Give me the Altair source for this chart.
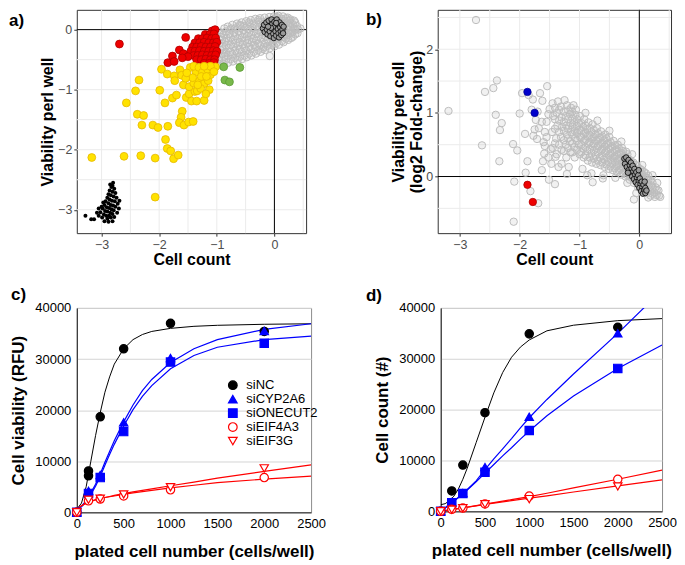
import altair as alt
import pandas as pd

FONT = "Liberation Sans"

# ================= panel a data =================
a_gray = [
    (-0.95, -0.58), (-0.96, -0.46), (-0.94, -0.34), (-0.95, -0.22), (-0.93, -0.12), (-0.95, -0.04),
    (-0.88, -0.57), (-0.87, -0.45), (-0.89, -0.33), (-0.86, -0.20), (-0.88, -0.08), (-0.87, 0.02),
    (-0.80, -0.55), (-0.81, -0.43), (-0.79, -0.31), (-0.80, -0.19), (-0.78, -0.07), (-0.81, 0.05),
    (-0.72, -0.53), (-0.73, -0.41), (-0.71, -0.29), (-0.72, -0.17), (-0.70, -0.05), (-0.73, 0.08),
    (-0.64, -0.51), (-0.65, -0.39), (-0.63, -0.27), (-0.64, -0.15), (-0.62, -0.03), (-0.65, 0.10),
    (-0.56, -0.49), (-0.57, -0.37), (-0.55, -0.25), (-0.56, -0.13), (-0.54, -0.01), (-0.57, 0.12),
    (-0.48, -0.46), (-0.49, -0.35), (-0.47, -0.23), (-0.48, -0.11), (-0.46, 0.01), (-0.49, 0.14),
    (-0.40, -0.43), (-0.41, -0.32), (-0.39, -0.21), (-0.40, -0.09), (-0.38, 0.03), (-0.41, 0.16),
    (-0.32, -0.40), (-0.33, -0.29), (-0.31, -0.18), (-0.32, -0.07), (-0.30, 0.05), (-0.33, 0.18),
    (-0.24, -0.37), (-0.25, -0.26), (-0.23, -0.15), (-0.24, -0.04), (-0.22, 0.07), (-0.25, 0.19),
    (-0.16, -0.34), (-0.17, -0.23), (-0.15, -0.12), (-0.16, -0.02), (-0.14, 0.09), (-0.17, 0.20),
    (-0.08, -0.31), (-0.09, -0.20), (-0.07, -0.10), (-0.08, 0.00), (-0.06, 0.11), (-0.09, 0.21), (-0.08, -0.44),
    (0.00, -0.28), (-0.01, -0.18), (0.01, -0.08), (0.00, 0.02), (0.02, 0.12), (-0.01, 0.22),
    (0.08, -0.25), (0.07, -0.15), (0.09, -0.05), (0.08, 0.05), (0.10, 0.14), (0.07, 0.23),
    (0.16, -0.21), (0.15, -0.12), (0.17, -0.03), (0.16, 0.06), (0.18, 0.15), (0.15, 0.22),
    (0.24, -0.17), (0.23, -0.09), (0.25, -0.01), (0.24, 0.07), (0.26, 0.15), (0.23, 0.20),
    (0.32, -0.12), (0.31, -0.05), (0.33, 0.02), (0.32, 0.09), (0.34, 0.15),
    (0.40, -0.06), (0.41, 0.00), (0.39, 0.06), (0.45, 0.02),
    (-0.91, -0.52), (-0.84, -0.26), (-0.76, -0.49), (-0.68, -0.35), (-0.60, -0.45), (-0.52, -0.31),
    (-0.44, -0.40), (-0.36, -0.15), (-0.28, -0.34), (-0.20, -0.09), (-0.12, -0.27), (-0.04, 0.16),
    (0.04, -0.22), (0.12, 0.18), (0.20, -0.15), (0.28, 0.11), (0.36, -0.08), (-0.90, -0.40),
    (-0.83, -0.14), (-0.75, 0.02), (-0.67, -0.22), (-0.59, 0.06), (-0.51, -0.18), (-0.43, 0.09),
    (-0.35, -0.26), (-0.27, 0.13), (-0.19, -0.29), (-0.11, 0.04), (-0.03, -0.23), (0.05, 0.19),
    (0.13, -0.19), (0.21, 0.02), (0.29, -0.14),
    (-0.91, -0.60), (-0.91, -0.28), (-0.91, -0.17), (-0.91, -0.06),
    (-0.84, -0.50), (-0.84, -0.38), (-0.84, -0.03),
    (-0.76, -0.37), (-0.76, -0.25), (-0.76, -0.13), (-0.76, 0.00),
    (-0.68, -0.47), (-0.68, -0.11), (-0.68, 0.02),
    (-0.60, -0.33), (-0.60, -0.21), (-0.60, -0.09), (-0.60, 0.08),
    (-0.52, -0.43), (-0.52, -0.07), (-0.52, 0.06),
    (-0.44, -0.29), (-0.44, -0.17), (-0.44, -0.05), (-0.44, 0.12),
    (-0.36, -0.37), (-0.36, -0.03), (-0.36, 0.10),
    (-0.28, -0.23), (-0.28, -0.12), (-0.28, -0.01), (-0.28, 0.16),
    (-0.20, -0.32), (-0.20, 0.02), (-0.20, 0.13),
    (-0.12, -0.17), (-0.12, -0.06), (-0.12, 0.15),
    (-0.04, -0.26), (-0.04, -0.15), (-0.04, -0.05), (-0.04, 0.06),
    (0.04, -0.12), (0.04, -0.02), (0.04, 0.09), (0.04, 0.21),
    (0.12, -0.10), (0.12, 0.00), (0.12, 0.10),
    (0.20, -0.07), (0.20, 0.11), (0.20, 0.19),
    (0.28, -0.05), (0.28, 0.04), (0.28, 0.17),
    (0.36, 0.00), (0.36, 0.12),
]
a_red = [
    (-1.08, -0.02), (-1.03, 0.00),
    (-1.20, -0.08), (-1.12, -0.08), (-1.05, -0.07),
    (-1.32, -0.15), (-1.25, -0.15), (-1.17, -0.14), (-1.09, -0.15), (-1.02, -0.14),
    (-1.38, -0.22), (-1.30, -0.22), (-1.22, -0.21), (-1.14, -0.22), (-1.06, -0.22), (-1.00, -0.21),
    (-1.42, -0.29), (-1.35, -0.29), (-1.27, -0.28), (-1.19, -0.29), (-1.11, -0.29), (-1.03, -0.28),
    (-1.45, -0.36), (-1.38, -0.36), (-1.30, -0.35), (-1.22, -0.36), (-1.14, -0.36), (-1.06, -0.35), (-1.00, -0.36),
    (-1.40, -0.43), (-1.33, -0.43), (-1.25, -0.42), (-1.17, -0.43), (-1.09, -0.43), (-1.02, -0.42),
    (-1.35, -0.50), (-1.27, -0.50), (-1.19, -0.49), (-1.11, -0.50), (-1.04, -0.50),
    (-1.22, -0.56), (-1.13, -0.56), (-1.05, -0.55),
    (-2.69, -0.24), (-1.54, -0.13), (-1.65, -0.34), (-1.77, -0.44), (-1.85, -0.55),
    (-1.74, -0.53), (-1.58, -0.40), (-1.50, -0.45), (-1.60, -0.47),
]
a_yellow = [
    (-3.17, -2.13), (-2.57, -1.22), (-2.41, -1.02), (-2.35, -0.84), (-2.38, -1.41), (-2.27, -1.43),
    (-2.30, -1.59), (-2.61, -2.11), (-2.32, -2.10), (-2.11, -1.59), (-2.02, -1.63), (-1.99, -1.01),
    (-2.07, -2.14), (-2.07, -2.79), (-1.96, -0.66), (-1.90, -1.22), (-1.85, -1.61), (-1.89, -1.83),
    (-1.86, -1.98), (-1.80, -2.02), (-1.75, -2.15), (-1.67, -2.09), (-1.86, -0.74), (-1.74, -0.77),
    (-1.73, -0.85), (-1.77, -1.14), (-1.70, -1.09), (-1.64, -0.67), (-1.61, -0.76), (-1.58, -0.92),
    (-1.60, -1.36), (-1.62, -1.46), (-1.65, -1.55), (-1.57, -1.59), (-1.49, -1.54), (-1.41, -1.53),
    (-1.53, -1.13), (-1.48, -1.07), (-1.44, -1.19), (-1.35, -1.19), (-1.22, -1.18), (-1.38, -1.03),
    (-1.34, -1.02), (-1.48, -0.95), (-1.40, -0.89), (-1.36, -0.71), (-1.46, -0.63), (-1.40, -0.61),
    (-1.31, -0.63), (-1.25, -0.71), (-1.30, -0.85), (-1.22, -0.90), (-1.15, -0.85), (-1.11, -0.75),
    (-1.16, -0.66), (-1.08, -0.63), (-1.02, -0.62), (-1.11, -0.61), (-1.22, -0.61), (-1.28, -0.98),
    (-1.42, -0.80), (-1.54, -0.81), (-1.13, -1.00), (-1.19, -1.07), (-1.52, -0.72), (-1.27, -0.78),
    (-1.05, -0.70), (-1.18, -0.78), (-1.33, -0.92),
]
a_green = [(-0.88, -0.62), (-0.60, -0.63), (-0.86, -0.84), (-0.78, -0.87)]
a_black = [
    (-2.80, -2.55), (-2.83, -2.62), (-2.78, -2.65), (-2.86, -2.68), (-2.81, -2.70), (-2.76, -2.72),
    (-2.88, -2.74), (-2.84, -2.76), (-2.79, -2.78), (-2.74, -2.80), (-2.90, -2.80), (-2.86, -2.83),
    (-2.82, -2.85), (-2.77, -2.86), (-2.93, -2.86), (-2.72, -2.90), (-2.88, -2.89), (-2.84, -2.92),
    (-2.80, -2.93), (-2.95, -2.92), (-2.76, -2.95), (-2.91, -2.96), (-2.87, -2.97), (-2.83, -2.99),
    (-2.98, -2.98), (-2.79, -3.01), (-2.94, -3.02), (-2.90, -3.03), (-2.85, -3.05), (-3.02, -3.04),
    (-2.81, -3.07), (-2.96, -3.08), (-2.92, -3.10), (-2.87, -3.10), (-3.05, -3.10), (-2.99, -3.13),
    (-2.90, -3.15), (-2.84, -3.13), (-3.13, -3.16), (-3.18, -3.16), (-3.28, -3.10), (-2.95, -3.19),
    (-2.88, -3.20), (-2.81, -3.19), (-3.00, -2.95), (-3.05, -2.98), (-2.97, -2.88), (-2.70, -2.98),
    (-2.73, -3.05), (-2.69, -2.85), (-2.78, -3.12), (-3.08, -3.05), (-2.85, -2.58), (-2.81, -2.60),
]
a_ctrl = [
    (-0.20, 0.02), (-0.18, 0.08), (-0.17, -0.04), (-0.14, 0.12), (-0.13, 0.00), (-0.12, -0.08),
    (-0.10, 0.15), (-0.09, 0.06), (-0.08, -0.03), (-0.07, -0.11), (-0.05, 0.17), (-0.04, 0.09),
    (-0.03, 0.01), (-0.02, -0.07), (-0.01, -0.14), (0.00, 0.13), (0.01, 0.05), (0.02, -0.03),
    (0.03, -0.10), (0.04, 0.17), (0.05, 0.09), (0.06, 0.01), (0.07, -0.06), (0.08, -0.13),
    (0.09, 0.12), (0.10, 0.04), (0.11, -0.03), (0.12, -0.09), (0.13, 0.08), (0.14, 0.00),
    (0.15, -0.06), (0.16, 0.05), (-0.06, 0.03), (0.03, 0.11), (-0.11, 0.05),
]
a_grid_x = [-3, -2.5, -2, -1.5, -1, -0.5, 0, 0.5]
a_grid_y = [-3, -2.5, -2, -1.5, -1, -0.5, 0]
a_ticks_x = [-3, -2, -1, 0]
a_ticks_y = [-3, -2, -1, 0]

# ================= panel b data =================
b_gray = [
    (-1.45, 0.45), (-1.46, 0.70), (-1.44, 0.95), (-1.45, 1.15),
    (-1.38, 0.35), (-1.39, 0.60), (-1.37, 0.80), (-1.38, 1.00), (-1.36, 1.18),
    (-1.30, 0.42), (-1.31, 0.62), (-1.29, 0.78), (-1.30, 0.93), (-1.31, 1.10),
    (-1.22, 0.30), (-1.23, 0.50), (-1.21, 0.66), (-1.22, 0.80), (-1.23, 0.95), (-1.21, 1.12),
    (-1.15, 0.38), (-1.16, 0.55), (-1.14, 0.70), (-1.15, 0.84), (-1.16, 0.98), (-1.14, 1.08),
    (-1.08, 0.30), (-1.09, 0.46), (-1.07, 0.60), (-1.08, 0.72), (-1.09, 0.85), (-1.07, 0.97), (-1.06, 1.05),
    (-1.00, 0.35), (-1.01, 0.50), (-0.99, 0.62), (-1.00, 0.73), (-1.01, 0.84), (-0.99, 0.95),
    (-0.93, 0.30), (-0.94, 0.44), (-0.92, 0.56), (-0.93, 0.67), (-0.94, 0.78), (-0.92, 0.90),
    (-0.86, 0.25), (-0.87, 0.40), (-0.85, 0.52), (-0.86, 0.63), (-0.87, 0.74), (-0.85, 0.85),
    (-0.79, 0.22), (-0.80, 0.36), (-0.78, 0.48), (-0.79, 0.59), (-0.80, 0.70), (-0.78, 0.82),
    (-0.72, 0.20), (-0.73, 0.33), (-0.71, 0.45), (-0.72, 0.56), (-0.73, 0.66), (-0.71, 0.76),
    (-0.65, 0.18), (-0.66, 0.30), (-0.64, 0.41), (-0.65, 0.51), (-0.66, 0.61), (-0.64, 0.71),
    (-0.58, 0.15), (-0.59, 0.27), (-0.57, 0.37), (-0.58, 0.47), (-0.59, 0.57), (-0.57, 0.66),
    (-0.51, 0.12), (-0.52, 0.23), (-0.50, 0.33), (-0.51, 0.43), (-0.52, 0.52), (-0.50, 0.62),
    (-0.44, 0.10), (-0.45, 0.20), (-0.43, 0.29), (-0.44, 0.38), (-0.45, 0.47), (-0.43, 0.56),
    (-0.37, 0.07), (-0.38, 0.16), (-0.36, 0.25), (-0.37, 0.34), (-0.38, 0.42), (-0.36, 0.50),
    (-0.30, 0.03), (-0.31, 0.12), (-0.29, 0.21), (-0.30, 0.29), (-0.31, 0.37), (-0.29, 0.45),
    (-0.23, 0.00), (-0.24, 0.08), (-0.22, 0.16), (-0.23, 0.24), (-0.24, 0.32), (-0.22, 0.39),
    (-0.16, -0.05), (-0.17, 0.03), (-0.15, 0.11), (-0.16, 0.19), (-0.17, 0.27),
    (-0.09, -0.10), (-0.10, -0.02), (-0.08, 0.06), (-0.09, 0.14), (-0.10, 0.22),
    (-0.02, -0.17), (-0.03, -0.08), (-0.01, 0.00), (-0.02, 0.08), (-0.03, 0.16),
    (0.05, -0.22), (0.04, -0.13), (0.06, -0.05), (0.05, 0.03), (0.04, 0.10),
    (0.12, -0.26), (0.11, -0.18), (0.13, -0.10), (0.12, -0.02), (0.11, 0.05),
    (0.19, -0.30), (0.18, -0.22), (0.20, -0.14), (0.19, -0.06),
    (0.26, -0.32), (0.25, -0.25), (0.27, -0.17),
    (0.33, -0.30), (0.32, -0.22),
    (-1.41, 0.52), (-1.41, 0.75), (-1.41, 0.90), (-1.41, 1.08),
    (-1.34, 0.50), (-1.34, 0.70), (-1.34, 0.88), (-1.34, 1.05),
    (-1.26, 0.40), (-1.26, 0.57), (-1.26, 0.72), (-1.26, 0.86), (-1.26, 1.02),
    (-1.19, 0.45), (-1.19, 0.60), (-1.19, 0.75), (-1.19, 0.90), (-1.19, 1.04),
    (-1.12, 0.38), (-1.12, 0.52), (-1.12, 0.66), (-1.12, 0.78), (-1.12, 0.91), (-1.12, 1.02),
    (-1.04, 0.42), (-1.04, 0.56), (-1.04, 0.68), (-1.04, 0.79), (-1.04, 0.90),
    (-0.97, 0.38), (-0.97, 0.50), (-0.97, 0.62), (-0.97, 0.72), (-0.97, 0.84),
    (-0.90, 0.33), (-0.90, 0.46), (-0.90, 0.58), (-0.90, 0.69), (-0.90, 0.80),
    (-0.83, 0.30), (-0.83, 0.43), (-0.83, 0.54), (-0.83, 0.65), (-0.83, 0.76),
    (-0.76, 0.28), (-0.76, 0.41), (-0.76, 0.52), (-0.76, 0.62), (-0.76, 0.73),
    (-0.69, 0.25), (-0.69, 0.38), (-0.69, 0.48), (-0.69, 0.58), (-0.69, 0.68),
    (-0.62, 0.22), (-0.62, 0.33), (-0.62, 0.43), (-0.62, 0.53), (-0.62, 0.63),
    (-0.55, 0.19), (-0.55, 0.30), (-0.55, 0.40), (-0.55, 0.50), (-0.55, 0.60),
    (-0.48, 0.16), (-0.48, 0.26), (-0.48, 0.36), (-0.48, 0.45), (-0.48, 0.54),
    (-0.41, 0.13), (-0.41, 0.23), (-0.41, 0.32), (-0.41, 0.41), (-0.41, 0.49),
    (-0.34, 0.10), (-0.34, 0.19), (-0.34, 0.28), (-0.34, 0.36), (-0.34, 0.44),
    (-0.27, 0.06), (-0.27, 0.15), (-0.27, 0.24), (-0.27, 0.32), (-0.27, 0.40),
    (-0.20, 0.02), (-0.20, 0.11), (-0.20, 0.20), (-0.20, 0.28), (-0.20, 0.35),
    (-0.13, -0.02), (-0.13, 0.07), (-0.13, 0.15), (-0.13, 0.23),
    (-0.06, -0.07), (-0.06, 0.02), (-0.06, 0.10), (-0.06, 0.18),
    (0.01, -0.12), (0.01, -0.04), (0.01, 0.04), (0.01, 0.12),
    (0.08, -0.18), (0.08, -0.09), (0.08, -0.01), (0.08, 0.07),
    (0.15, -0.23), (0.15, -0.14), (0.15, -0.06), (0.15, 0.01),
    (0.22, -0.27), (0.22, -0.18), (0.22, -0.10),
    (0.29, -0.29), (0.29, -0.21),
    (-1.55, 0.62), (-1.58, 0.48), (-1.52, 0.30), (-1.47, 0.20), (-1.30, 0.20), (-1.18, 0.15),
    (-0.95, 0.12), (-0.80, 0.05), (-0.60, 0.02), (-1.25, 1.20), (-1.10, 1.12), (-0.90, 1.00),
    (-0.70, 0.88), (-0.50, 0.72), (-0.30, 0.55), (-0.12, 0.35), (0.05, 0.18), (0.22, 0.02),
    (0.30, -0.10), (0.15, -0.33), (-0.05, -0.26), (-0.20, -0.10), (-0.40, -0.02),
    (-2.73, 2.46), (-3.19, 1.03), (-2.58, 1.33), (-2.44, 1.39), (-2.38, 1.51), (-2.40, 0.97),
    (-2.30, 0.84), (-2.33, 0.73), (-2.63, 0.49), (-2.34, 0.24), (-2.11, 0.51), (-2.04, 0.41),
    (-2.00, 0.99), (-1.96, 1.31), (-1.78, 1.21), (-1.66, 1.31), (-1.62, 1.19), (-1.54, 1.42),
    (-1.73, 0.89), (-1.75, 0.74), (-1.91, 0.67), (-1.77, 0.64), (-1.71, 0.59), (-1.87, 0.24),
    (-1.90, 0.06), (-2.09, -0.08), (-1.82, -0.23), (-1.69, -0.42), (-2.10, -0.71), (-1.63, 0.10),
    (-1.61, 0.24), (-1.51, -0.05), (-1.41, -0.12), (-1.59, 0.36), (-1.48, 0.43), (-1.50, 1.06),
    (-1.52, 0.98), (-1.63, 0.86), (-1.60, 0.54), (-1.21, 0.04), (-0.87, 0.02), (-0.78, -0.09),
    (-0.61, -0.03), (-0.09, -0.36), (0.35, -0.32), (-1.35, 0.15), (-1.40, 0.31), (-1.85, 1.28),
    (-1.80, 1.05), (-1.70, 1.02), (-1.68, 0.76), (-1.58, 0.70), (-1.55, 0.86),
]
b_blue = [(-1.87, 1.33), (-1.75, 1.00)]
b_red = [(-1.87, -0.13), (-1.78, -0.40)]
b_ctrl = [
    (-0.25, 0.28), (-0.22, 0.30), (-0.20, 0.22), (-0.24, 0.20), (-0.18, 0.26), (-0.21, 0.15),
    (-0.16, 0.18), (-0.14, 0.22), (-0.18, 0.10), (-0.13, 0.13), (-0.11, 0.17), (-0.15, 0.05),
    (-0.10, 0.08), (-0.08, 0.12), (-0.12, 0.00), (-0.07, 0.03), (-0.05, 0.07), (-0.09, -0.04),
    (-0.04, -0.02), (-0.02, 0.02), (-0.06, -0.09), (-0.01, -0.07), (0.01, -0.03), (-0.03, -0.13),
    (0.02, -0.12), (0.04, -0.08), (0.00, -0.18), (0.05, -0.17), (0.07, -0.13), (0.03, -0.23),
    (0.08, -0.21), (0.10, -0.18), (0.06, -0.27), (0.10, -0.26), (0.12, -0.22), (-0.19, 0.06),
    (-0.01, 0.10), (0.09, -0.08),
]
b_grid_x = [-3, -2.5, -2, -1.5, -1, -0.5, 0, 0.5]
b_grid_y = [-0.5, 0, 0.5, 1, 1.5, 2, 2.5]
b_ticks_x = [-3, -2, -1, 0]
b_ticks_y = [0, 1, 2]

# ================= panels c / d data =================
series = ["siNC", "siCYP2A6", "siONECUT2", "siEIF4A3", "siEIF3G"]
series_shape = ["circle", "triangle-up", "square", "circle", "triangle-down"]
series_stroke = ["#000000", "#0000ff", "#0000ff", "#ff0000", "#ff0000"]
series_fill = ["#000000", "#0000ff", "#0000ff", "#ffffff", "#ffffff"]

plated = [0, 125, 250, 500, 1000, 2000]
c_siNC_x = [0, 125, 125, 250, 500, 1000, 2000]
c_siNC = [0, 8100, 7150, 18700, 32000, 37000, 35400]
c_siCYP2A6 = [0, 4200, 7300, 17600, 30200, 35500]
c_siONECUT2 = [0, 3700, 6800, 15800, 29400, 33100]
c_siEIF4A3 = [0, 2250, 2600, 3200, 4400, 6800]
c_siEIF3G = [0, 2450, 2650, 3500, 4900, 8600]

c_fit_x = [0, 50, 100, 150, 200, 250, 300, 350, 400, 500, 600, 700, 800, 1000, 1250, 1500, 2000, 2500]
c_fit_siNC = [600, 1800, 5000, 10000, 15000, 19500, 23500, 26500, 29000, 32000, 33800, 34800, 35400, 36000, 36400, 36600, 36800, 36900]
c_fit_cyp = [800, 1200, 2300, 3800, 5500, 7500, 9800, 11900, 14000, 17700, 21000, 23800, 26000, 29300, 32000, 33800, 35800, 36900]
c_fit_one = [800, 1100, 2100, 3500, 5100, 7000, 9200, 11300, 13300, 16900, 20100, 22700, 24800, 28100, 30700, 32300, 33800, 34500]
c_fit_eif3g = [600, 1300, 1800, 2150, 2450, 2700, 2900, 3100, 3300, 3650, 4000, 4300, 4600, 5200, 5900, 6700, 8000, 9300]
c_fit_eif4a3 = [600, 1300, 1800, 2150, 2450, 2700, 2900, 3050, 3200, 3500, 3800, 4050, 4300, 4800, 5300, 5800, 6500, 7100]

d_siNC = [0, 4000, 9100, 19400, 34900, 36200]
d_siCYP2A6 = [0, 1800, 3600, 8700, 18600, 35000]
d_siONECUT2 = [0, 1700, 3500, 7700, 15900, 28100]
d_siEIF4A3 = [0, 400, 650, 1450, 3000, 6300]
d_siEIF3G = [0, 330, 600, 1400, 2400, 4900]

d_fit_x = [0, 50, 100, 150, 200, 250, 300, 400, 500, 600, 700, 800, 900, 1000, 1200, 1500, 2000, 2500]
d_fit_siNC = [1300, 1500, 2100, 3000, 4400, 6300, 8500, 13500, 18500, 23300, 27300, 30300, 32300, 33700, 35500, 36600, 37500, 37900]
d_fit_cyp = [0, 650, 1350, 2050, 2750, 3500, 4300, 6000, 8200, 10300, 12300, 14300, 16400, 18400, 22000, 27000, 35000, 43500]
d_fit_one = [0, 650, 1350, 2000, 2700, 3450, 4200, 5800, 7500, 9200, 10900, 12500, 14200, 15800, 18800, 22700, 28100, 32700]
d_fit_eif4a3 = [0, 140, 280, 420, 560, 700, 840, 1120, 1400, 1700, 2000, 2300, 2600, 2900, 3550, 4600, 6300, 8100]
d_fit_eif3g = [0, 130, 270, 400, 540, 670, 800, 1080, 1350, 1600, 1850, 2100, 2350, 2600, 3050, 3800, 5000, 6200]

curve_names = ["fNC", "fCYP", "fONE", "fEIF4A3", "fEIF3G"]
curve_colors = ["#000000", "#0000ff", "#0000ff", "#ff0000", "#ff0000"]
curve_widths = [1.0, 1.2, 1.2, 1.2, 1.2]


def pts(pairs):
    return pd.DataFrame(pairs, columns=["x", "y"])


def panel_label(text, dx, dy):
    return alt.Chart(pd.DataFrame({"t": [text]})).mark_text(
        font=FONT, fontSize=17, fontWeight="bold", align="left", baseline="top", color="black"
    ).encode(text="t:N", x=alt.value(dx), y=alt.value(dy))


def scatter_panel(label, ldx, ldy, xdom, ydom, xt, yt, gx, gy, ytitle, point_layers, w, h, ytpad):
    X = alt.X("x:Q", scale=alt.Scale(domain=xdom, nice=False, zero=False), title="Cell count",
              axis=alt.Axis(values=xt, grid=False, domain=False, tickColor="#333333", tickSize=3,
                            labelColor="#4d4d4d", labelFontSize=12.5, labelPadding=2, labelFlush=False,
                            titleFontSize=16, titlePadding=1))
    Y = alt.Y("y:Q", scale=alt.Scale(domain=ydom, nice=False, zero=False), title=ytitle,
              axis=alt.Axis(values=yt, grid=False, domain=False, tickColor="#333333", tickSize=3,
                            labelColor="#4d4d4d", labelFontSize=12.5, labelPadding=2, labelFlush=False,
                            titleFontSize=16, titlePadding=ytpad, titleLineHeight=18))
    layers = [
        alt.Chart(pd.DataFrame({"x": gx})).mark_rule(color="#ebebeb", strokeWidth=1).encode(x=X),
        alt.Chart(pd.DataFrame({"y": gy})).mark_rule(color="#ebebeb", strokeWidth=1).encode(y=Y),
        alt.Chart(pd.DataFrame({"x": [0]})).mark_rule(color="black", strokeWidth=1).encode(x=X),
        alt.Chart(pd.DataFrame({"y": [0]})).mark_rule(color="black", strokeWidth=1).encode(y=Y),
    ]
    for pairs, kind, kw in point_layers:
        base = alt.Chart(pts(pairs))
        mk = base.mark_circle(**kw) if kind == "circle" else base.mark_point(**kw)
        layers.append(mk.encode(x=X, y=Y))
    layers.append(panel_label(label, ldx, ldy))
    return alt.layer(*layers).properties(
        width=w, height=h, view=alt.ViewBackground(stroke="#333333", strokeWidth=1)
    )


gray_kw = dict(shape="circle", filled=True, fill="#bdbdbd", fillOpacity=0.22, stroke="#bdbdbd",
               strokeWidth=1, size=55, opacity=1)
ctrl_kw = dict(shape="circle", filled=True, fill="#9a9a9a", stroke="#000000", strokeWidth=0.8, size=30, opacity=1)

panel_a = scatter_panel(
    "a)", -68, 3, [-3.43, 0.55], [-3.39, 0.33], a_ticks_x, a_ticks_y, a_grid_x, a_grid_y,
    "Viability perl well",
    [
        (a_gray, "point", gray_kw),
        (a_red, "point", dict(shape="circle", filled=True, fill="#ee0000", stroke="#b00000", strokeWidth=0.8, size=62, opacity=1)),
        (a_yellow, "point", dict(shape="circle", filled=True, fill="#ffe200", stroke="#e6b800", strokeWidth=0.8, size=62, opacity=1)),
        (a_green, "point", dict(shape="circle", filled=True, fill="#78b84a", stroke="#5b9a35", strokeWidth=0.8, size=62, opacity=1)),
        (a_black, "circle", dict(color="#000000", size=16, opacity=1)),
        (a_ctrl, "point", ctrl_kw),
    ],
    230, 224, 2,
)

panel_b = scatter_panel(
    "b)", -72, 2, [-3.37, 0.53], [-0.89, 2.62], b_ticks_x, b_ticks_y, b_grid_x, b_grid_y,
    ["Viability per cell", "(log2 Fold-change)"],
    [
        (b_gray, "point", gray_kw),
        (b_blue, "point", dict(shape="circle", filled=True, fill="#0000cc", stroke="#000099", strokeWidth=0.8, size=55, opacity=1)),
        (b_red, "point", dict(shape="circle", filled=True, fill="#ee0000", stroke="#b00000", strokeWidth=0.8, size=55, opacity=1)),
        (b_ctrl, "point", ctrl_kw),
    ],
    234, 224, 1,
)


def long_points(xs_list, ys_list):
    rows = []
    for s, xs, ys in zip(series, xs_list, ys_list):
        for x, y in zip(xs, ys):
            rows.append({"x": x, "y": y, "series": s})
    return pd.DataFrame(rows)


def long_curves(xs, ys_list):
    rows = []
    for name, ys in zip(curve_names, ys_list):
        for x, y in zip(xs, ys):
            rows.append({"x": x, "y": y, "curve": name})
    return pd.DataFrame(rows)


def curve_panel(label, ldx, ldy, pts_df, curve_df, ytitle, w, h, show_legend, ytpad):
    X = alt.X("x:Q", scale=alt.Scale(domain=[0, 2500], nice=False, zero=False),
              title="plated cell number (cells/well)",
              axis=alt.Axis(values=[0, 500, 1000, 1500, 2000, 2500], grid=False, ticks=False,
                            domainColor="#222222", labelColor="black", labelFontSize=13, labelPadding=5,
                            labelFlush=False, titleFontSize=17, titlePadding=13, format="d"))
    Y = alt.Y("y:Q", scale=alt.Scale(domain=[0, 40000], nice=False, zero=False), title=ytitle,
              axis=alt.Axis(values=[0, 10000, 20000, 30000, 40000], grid=True, gridColor="#d4d4d4",
                            ticks=False, domainColor="#222222", labelColor="black", labelFontSize=13,
                            labelPadding=6, labelFlush=False, titleFontSize=17, titlePadding=ytpad,
                            format="d"))
    leg = alt.Legend(orient="none", legendX=150, legendY=71, title=None, labelFont=FONT,
                     labelFontSize=13, labelColor="black", symbolSize=75, symbolStrokeWidth=1.2,
                     rowPadding=-1.5, labelOffset=7) if show_legend else None
    lines = []
    for name, col, sw in zip(curve_names, curve_colors, curve_widths):
        lines.append(
            alt.Chart(curve_df[curve_df["curve"] == name]).mark_line(color=col, strokeWidth=sw, clip=True)
            .encode(x=X, y=Y)
        )
    points = alt.Chart(pts_df).mark_point(size=70, strokeWidth=1.2, opacity=1).encode(
        x=X, y=Y,
        shape=alt.Shape("series:N", scale=alt.Scale(domain=series, range=series_shape), legend=leg),
        stroke=alt.Stroke("series:N", scale=alt.Scale(domain=series, range=series_stroke), legend=leg),
        fill=alt.Fill("series:N", scale=alt.Scale(domain=series, range=series_fill), legend=leg),
        order=alt.Order("ord:Q"),
    )
    return alt.layer(*lines, points, panel_label(label, ldx, ldy)).properties(
        width=w, height=h, view=alt.ViewBackground(stroke="#8c8c8c", strokeWidth=1)
    )


c_pts = long_points([c_siNC_x] + [plated] * 4, [c_siNC, c_siCYP2A6, c_siONECUT2, c_siEIF4A3, c_siEIF3G])
c_pts["ord"] = c_pts["series"].map({s: i for i, s in enumerate(series)})
d_pts = long_points([plated] * 5, [d_siNC, d_siCYP2A6, d_siONECUT2, d_siEIF4A3, d_siEIF3G])
d_pts["ord"] = d_pts["series"].map({s: i for i, s in enumerate(series)})
c_cur = long_curves(c_fit_x, [c_fit_siNC, c_fit_cyp, c_fit_one, c_fit_eif4a3, c_fit_eif3g])
d_cur = long_curves(d_fit_x, [d_fit_siNC, d_fit_cyp, d_fit_one, d_fit_eif4a3, d_fit_eif3g])

panel_c = curve_panel("c)", -66, -21, c_pts, c_cur, "Cell viability (RFU)", 235, 205, True, 7)
panel_d = curve_panel("d)", -75, -20, d_pts, d_cur, "Cell count  (#)", 222, 204, False, 7)

row1 = alt.hconcat(panel_a, panel_b, spacing=58)
row2 = alt.hconcat(panel_c, panel_d, spacing=39).resolve_legend(shape="independent", stroke="independent", fill="independent")

chart = alt.vconcat(row1, row2, spacing=17).properties(
    padding={"left": 0, "top": 0, "right": 0, "bottom": 0}
).configure(font=FONT).configure_axis(labelFont=FONT, titleFont=FONT, titleColor="black",
                                       titleFontWeight="bold")

chart.save("out.html", embed_options={"renderer": "svg", "actions": False})
